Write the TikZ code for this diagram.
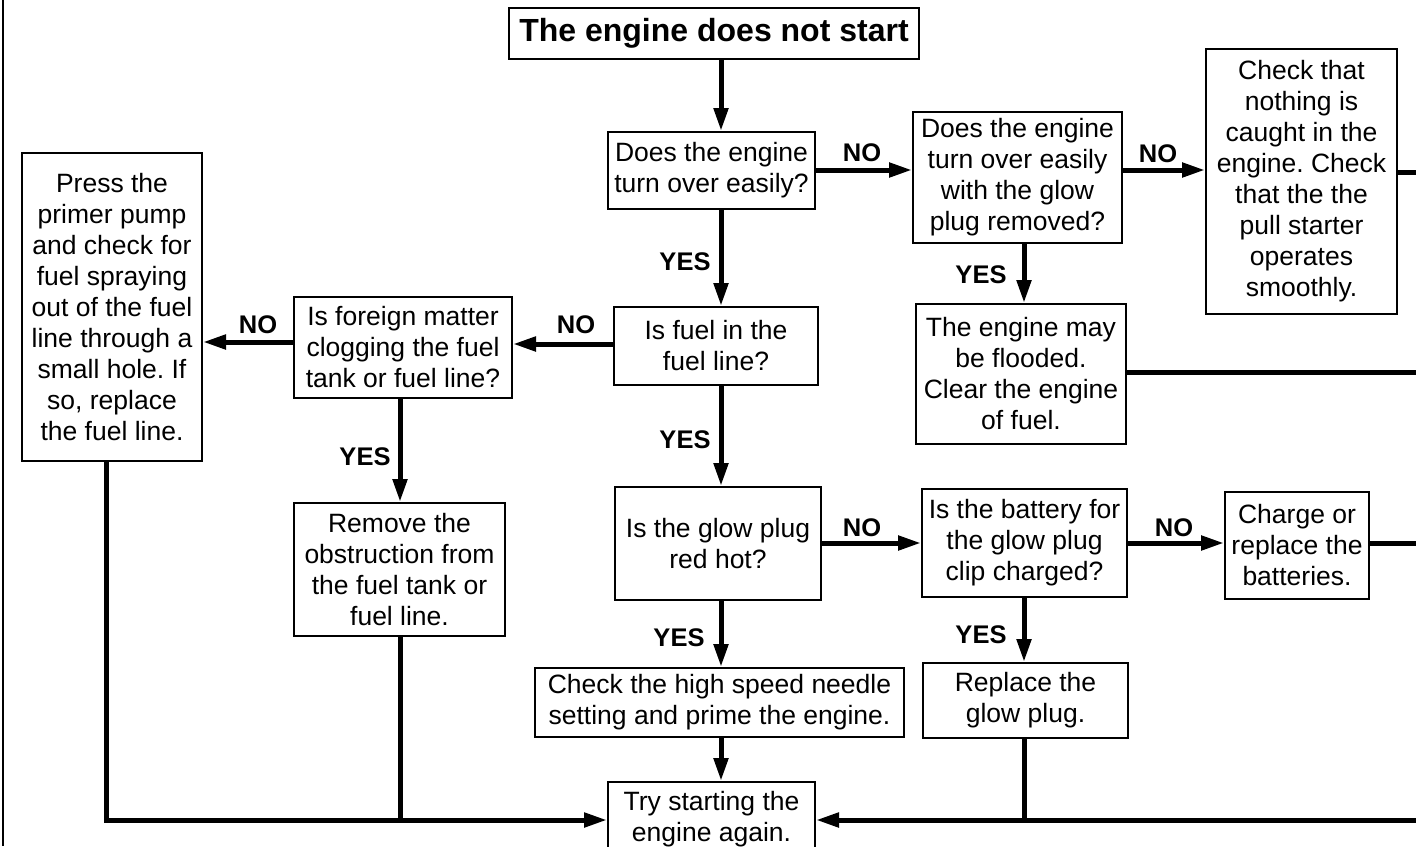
\documentclass[tikz,border=0pt]{standalone}
\usepackage{fontspec}
\setmainfont{Liberation Sans}
\usetikzlibrary{arrows.meta}
\begin{document}
\frenchspacing
\begin{tikzpicture}[x=1pt,y=-1pt,
  box/.style={draw, line width=2pt, align=center, inner sep=0pt,
    font=\fontsize{26.5}{31}\selectfont},
  titlebox/.style={draw, line width=2pt, align=center, inner sep=0pt,
    font=\fontsize{32}{38}\selectfont\bfseries},
  lbl/.style={font=\fontsize{25.5}{30}\selectfont\bfseries, inner sep=0pt},
  conn/.style={line width=5pt},
  arr/.style={line width=5pt, -{Triangle[length=23pt,width=14pt]}}
]
\useasboundingbox (0,0) rectangle (1416,846);
\draw[line width=1.5pt] (3,0) -- (3,846);

% nodes
\node[titlebox, minimum width=410, minimum height=51] (title) at (714,33.5) {The engine does not start};
\node[box, minimum width=207, minimum height=77] (q1) at (711.5,170.5) {Does the engine\\turn over easily?};
\node[box, minimum width=209, minimum height=131] (q2) at (1017.5,177.5) {Does the engine\\turn over easily\\with the glow\\plug removed?};
\node[box, minimum width=191, minimum height=265] (r1) at (1301.5,181.5) {Check that\\nothing is\\caught in the\\engine. Check\\that the the\\pull starter\\operates\\smoothly.};
\node[box, minimum width=204, minimum height=78] (q3) at (716,346) {Is fuel in the\\fuel line?};
\node[box, minimum width=218, minimum height=101] (q4) at (403,347.5) {Is foreign matter\\clogging the fuel\\tank or fuel line?};
\node[box, minimum width=180, minimum height=308] (r2) at (112,307) {Press the\\primer pump\\and check for\\fuel spraying\\out of the fuel\\line through a\\small hole. If\\so, replace\\the fuel line.};
\node[box, minimum width=210, minimum height=140] (r3) at (1021,374) {The engine may\\be flooded.\\Clear the engine\\of fuel.};
\node[box, minimum width=211, minimum height=133] (r4) at (399.5,569.5) {Remove the\\obstruction from\\the fuel tank or\\fuel line.};
\node[box, minimum width=206, minimum height=113] (q5) at (718,543.5) {Is the glow plug\\red hot?};
\node[box, minimum width=205, minimum height=108] (q6) at (1024.5,543) {Is the battery for\\the glow plug\\clip charged?};
\node[box, minimum width=144, minimum height=107] (r5) at (1297,545.5) {Charge or\\replace the\\batteries.};
\node[box, minimum width=369, minimum height=69] (r6) at (719.5,702.5) {Check the high speed needle\\setting and prime the engine.};
\node[box, minimum width=205, minimum height=75] (r7) at (1025.5,700.5) {Replace the\\glow plug.};
\node[box, minimum width=207, minimum height=75] (r8) at (711.5,819.5) {Try starting the\\engine again.};

% helper coordinates
\coordinate (cx) at (721,0);
\coordinate (cq) at (1024,0);
\coordinate (c4) at (400,0);
\coordinate (c2) at (106,0);
\coordinate (yA) at (0,170);
\coordinate (yB) at (0,172);
\coordinate (yC) at (0,344);
\coordinate (yD) at (0,342);
\coordinate (yE) at (0,372);
\coordinate (yF) at (0,543);
\coordinate (yG) at (0,820);
\coordinate (e1) at (1416,172);
\coordinate (e2) at (1416,372);
\coordinate (e3) at (1416,543);
\coordinate (e4) at (1416,820);
\coordinate (bl) at (106,820);
\coordinate (j4) at (400,820);
\coordinate (j7) at (1024,820);

% vertical arrows
\draw[arr] (title.south -| cx) -- (q1.north -| cx);
\draw[arr] (q1.south -| cx) -- (q3.north -| cx);
\draw[arr] (q3.south -| cx) -- (q5.north -| cx);
\draw[arr] (q5.south -| cx) -- (r6.north -| cx);
\draw[arr] (r6.south -| cx) -- (r8.north -| cx);
\draw[arr] (q2.south -| cq) -- (r3.north -| cq);
\draw[arr] (q6.south -| cq) -- (r7.north -| cq);
\draw[arr] (q4.south -| c4) -- (r4.north -| c4);

% horizontal arrows
\draw[arr] (q1.east |- yA) -- (q2.west |- yA);
\draw[arr] (q2.east |- yA) -- (r1.west |- yA);
\draw[arr] (q3.west |- yC) -- (q4.east |- yC);
\draw[arr] (q4.west |- yD) -- (r2.east |- yD);
\draw[arr] (q5.east |- yF) -- (q6.west |- yF);
\draw[arr] (q6.east |- yF) -- (r5.west |- yF);

% lines to the right edge
\draw[conn] (r1.east |- yB) -- (e1);
\draw[conn] (r3.east |- yE) -- (e2);
\draw[conn] (r5.east |- yF) -- (e3);

% return lines
\draw[arr] (r2.south -| c2) -- (bl) -- (r8.west |- yG);
\draw[conn] (r4.south -| c4) -- (j4);
\draw[conn] (r7.south -| cq) -- (j7);
\draw[arr] (e4) -- (r8.east |- yG);

% labels
\node[lbl] (n1) at (862,153) {NO};
\node[lbl] (n2) at (1158,154) {NO};
\node[lbl] (n3) at (576,325) {NO};
\node[lbl] (n4) at (258,325) {NO};
\node[lbl] (n5) at (862,528) {NO};
\node[lbl] (n6) at (1174,528) {NO};
\node[lbl] (y1) at (685,262) {YES};
\node[lbl] (y2) at (981,275) {YES};
\node[lbl] (y3) at (685,440) {YES};
\node[lbl] (y4) at (365,457) {YES};
\node[lbl] (y5) at (679,638) {YES};
\node[lbl] (y6) at (981,635) {YES};
\end{tikzpicture}
\end{document}
